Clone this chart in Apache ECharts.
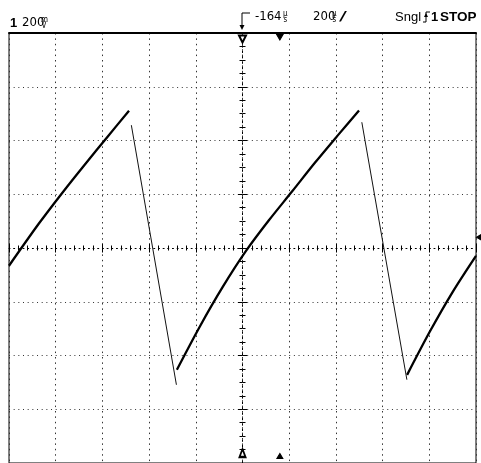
<!DOCTYPE html>
<html><head><meta charset="utf-8">
<script src="https://cdn.jsdelivr.net/npm/echarts@6/dist/echarts.min.js"></script>
<style>html,body{margin:0;padding:0;background:#fff}#c{width:481px;height:463px}</style>
</head><body><div id="c"></div>
<script>
// time in microseconds (200 us/div), voltage in millivolts (200 mV/div)
const timeRange = [-1000, 1000];
const voltRange = [-800, 800];
const rise1 = [[-1000,-66],[-872,91],[-773,204],[-675,311],[-576,416],[-486,511]];
const fall1 = [[-476,457],[-283,-509]];
const rise2 = [[-281,-453],[-182,-291],[-84,-144],[15,-11],[113,103],[212,210],[310,317],[409,420],[499,512]];
const fall2 = [[511,468],[704,-490]];
const rise3 = [[705,-472],[803,-310],[901,-162],[1000,-29]];
const triggerPos = 160;     // trigger position marker (us)
const triggerLevel = 40;    // trigger level marker (mV)
const headerLeft = ['1', '200', 'm', 'V'];
const headerRight = ['-164', 'µ', 's', '200', 'µ', 's', '/', 'Sngl', '1', 'STOP'];

const NARROW = "'Liberation Sans Narrow','DejaVu Sans Condensed',sans-serif";
const SANS = "'Liberation Sans',Arial,sans-serif";
const SMALL = "8px 'DejaVu Sans Condensed','DejaVu Sans',sans-serif";
const chart = echarts.init(document.getElementById('c'), null, {renderer:'canvas'});
const gridRect = {left:9, top:33, width:467, height:434};
const dotH = [1, 3.67], dotV = [1.5, 3.9];

function txt(x, y, t, font){ return {type:'text', x:x, y:y, silent:true, style:{text:t, font:font, fill:'#000', verticalAlign:'middle'}}; }

const rise = {color:'#000', width:2.3};
const fall = {color:'#111', width:1};
function seg(d, ls, extra){ return Object.assign({type:'line', data:d, showSymbol:false, smooth:0.3, lineStyle:ls, animation:false, z:5}, extra||{}); }

chart.setOption({
  animation:false,
  backgroundColor:'#fff',
  grid:[Object.assign({show:true, borderColor:'#000', borderWidth:1}, gridRect), Object.assign({show:false}, gridRect)],
  xAxis:[
    {gridIndex:0, type:'value', min:timeRange[0], max:timeRange[1], interval:200, position:'bottom',
     axisLine:{show:true, onZero:true, lineStyle:{color:'#000', width:1, type:dotH}},
     axisTick:{show:true, inside:true, length:4.5, lineStyle:{color:'#000'}},
     minorTick:{show:true, splitNumber:5, length:2.5, lineStyle:{color:'#000'}},
     axisLabel:{show:false},
     splitLine:{show:true, lineStyle:{color:'#333', width:1, type:dotV}}},
    {gridIndex:0, type:'value', min:timeRange[0], max:timeRange[1], interval:200, position:'top',
     axisLine:{show:false, onZero:true},
     axisTick:{show:true, inside:true, length:4.5, lineStyle:{color:'#000'}},
     minorTick:{show:true, splitNumber:5, length:2.5, lineStyle:{color:'#000'}},
     axisLabel:{show:false}, splitLine:{show:false}},
    {gridIndex:1, type:'value', min:timeRange[0], max:timeRange[1], position:'top',
     axisLine:{show:true, onZero:false, lineStyle:{color:'#000', width:2}},
     axisTick:{show:false}, axisLabel:{show:false}, splitLine:{show:false}}
  ],
  yAxis:[
    {gridIndex:0, type:'value', min:voltRange[0], max:voltRange[1], interval:200, position:'left',
     axisLine:{show:true, onZero:true, lineStyle:{color:'#000', width:1, type:dotV}},
     axisTick:{show:true, inside:true, length:4.5, lineStyle:{color:'#000'}},
     minorTick:{show:true, splitNumber:4, length:3, lineStyle:{color:'#000'}},
     axisLabel:{show:false},
     splitLine:{show:true, lineStyle:{color:'#333', width:1, type:dotH}}},
    {gridIndex:0, type:'value', min:voltRange[0], max:voltRange[1], interval:200, position:'right',
     axisLine:{show:false, onZero:true},
     axisTick:{show:true, inside:true, length:4.5, lineStyle:{color:'#000'}},
     minorTick:{show:true, splitNumber:4, length:3, lineStyle:{color:'#000'}},
     axisLabel:{show:false}, splitLine:{show:false}},
    {gridIndex:1, type:'value', min:voltRange[0], max:voltRange[1], show:false}
  ],
  series:[
    seg(rise1, rise),
    seg(fall1, fall, {smooth:false}),
    seg(rise2, rise, {markPoint:{
      silent:true, label:{show:false}, itemStyle:{color:'#000', borderColor:'#000', borderWidth:1},
      data:[
        {coord:[triggerPos, voltRange[1]], symbol:'triangle', symbolRotate:180, symbolSize:[7,6], symbolOffset:[0,4]},
        {coord:[0, voltRange[1]], symbol:'emptyTriangle', symbolRotate:180, symbolSize:[7,7], symbolOffset:[0,6]},
        {coord:[0, voltRange[0]], symbol:'emptyTriangle', symbolSize:[6,8], symbolOffset:[0,-10]},
        {coord:[triggerPos, voltRange[0]], symbol:'triangle', symbolSize:[6,5], symbolOffset:[0,-7]},
        {coord:[timeRange[1], triggerLevel], symbol:'triangle', symbolRotate:90, symbolSize:[6,5], symbolOffset:[3,0]}
      ]}}),
    seg(fall2, fall, {smooth:false}),
    seg(rise3, rise)
  ],
  graphic:[
    txt(10, 23, headerLeft[0], 'bold 13px '+SANS),
    txt(22, 23, headerLeft[1], '13px '+NARROW),
    txt(41, 20, headerLeft[2], SMALL),
    txt(41.5, 25.5, headerLeft[3], SMALL),
    {type:'polyline', silent:true, shape:{points:[[250,13],[242,13],[242,27]]}, style:{stroke:'#000', lineWidth:1, fill:null}},
    {type:'polygon', silent:true, shape:{points:[[239.5,25],[244.5,25],[242,30]]}, style:{fill:'#000'}},
    txt(255, 17, headerRight[0], '13px '+NARROW),
    txt(283, 14, headerRight[1], SMALL),
    txt(283.5, 20, headerRight[2], SMALL),
    txt(313, 17, headerRight[3], '13px '+NARROW),
    txt(332, 14, headerRight[4], SMALL),
    txt(332.5, 20, headerRight[5], SMALL),
    {type:'text', x:339, y:17, scaleX:2, silent:true, style:{text:headerRight[6], font:'13px '+NARROW, fill:'#000', verticalAlign:'middle'}},
    txt(395, 17, headerRight[7], '13px '+SANS),
    {type:'polyline', silent:true, shape:{points:[[423,22],[426,22],[426,12],[430,12]]}, style:{stroke:'#000', lineWidth:1, fill:null}},
    {type:'polygon', silent:true, shape:{points:[[424,17],[428,17],[426,13]]}, style:{fill:'#000'}},
    txt(431, 17, headerRight[8], 'bold 13px '+SANS),
    txt(440, 17, headerRight[9], 'bold 13.5px '+SANS)
  ]
});
</script></body></html>
